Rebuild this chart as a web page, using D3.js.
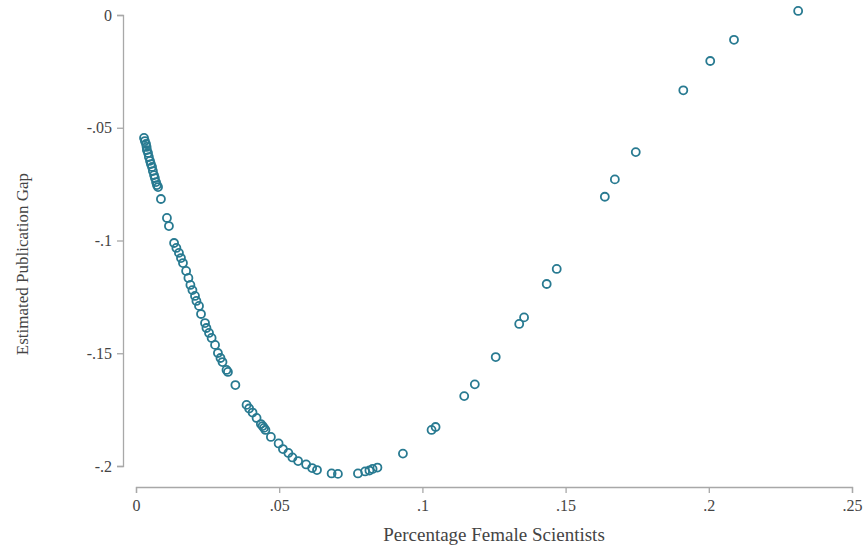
<!DOCTYPE html>
<meta charset="utf-8">
<style>
  body { margin: 0; background: #fff; }
  text { font-family: "Liberation Serif", "DejaVu Serif", serif; fill: #444; }
</style>
<script src="https://d3js.org/d3.v7.min.js"></script>
<div id="chart"></div>
<script>
// share of female scientists (x) and estimated gap (y)
var femaleShare = [
  0.0028, 0.0031, 0.0035, 0.0037, 0.0038, 0.0042, 0.0045, 0.0049, 0.0052, 0.0056,
  0.0059, 0.0063, 0.0066, 0.0070, 0.0073, 0.0077, 0.0087, 0.0108, 0.0115, 0.0133,
  0.0141, 0.0150, 0.0157, 0.0164, 0.0175, 0.0183, 0.0190, 0.0197, 0.0206, 0.0211,
  0.0220, 0.0227, 0.0241, 0.0246, 0.0255, 0.0264, 0.0276, 0.0286, 0.0295, 0.0302,
  0.0316, 0.0321, 0.0347, 0.0386, 0.0395, 0.0407, 0.0421, 0.0436, 0.0442, 0.0447,
  0.0452, 0.0471, 0.0498, 0.0513, 0.0532, 0.0546, 0.0566, 0.0594, 0.0615, 0.0632,
  0.0683, 0.0705, 0.0775, 0.0800, 0.0815, 0.0826, 0.0843, 0.0932, 0.1032, 0.1046,
  0.1146, 0.1183, 0.1256, 0.1338, 0.1355, 0.1434, 0.1469, 0.1637, 0.1672, 0.1745,
  0.1911, 0.2005, 0.2088, 0.2312
]
var pubGap = [
  -0.0545, -0.0559, -0.0572, -0.0585, -0.0599, -0.0612, -0.0630, -0.0647, -0.0661, -0.0674,
  -0.0692, -0.0710, -0.0723, -0.0741, -0.0754, -0.0763, -0.0816, -0.0900, -0.0936, -0.1011,
  -0.1033, -0.1055, -0.1078, -0.1100, -0.1135, -0.1166, -0.1197, -0.1220, -0.1246, -0.1268,
  -0.1290, -0.1326, -0.1366, -0.1388, -0.1410, -0.1432, -0.1463, -0.1499, -0.1521, -0.1539,
  -0.1574, -0.1583, -0.1641, -0.1729, -0.1745, -0.1763, -0.1787, -0.1814, -0.1823, -0.1831,
  -0.1840, -0.1871, -0.1900, -0.1925, -0.1942, -0.1962, -0.1978, -0.1993, -0.2009, -0.2018,
  -0.2033, -0.2035, -0.2033, -0.2024, -0.2020, -0.2013, -0.2007, -0.1945, -0.1840, -0.1827,
  -0.1690, -0.1638, -0.1517, -0.1370, -0.1341, -0.1193, -0.1126, -0.0806, -0.0729, -0.0608,
  -0.0334, -0.0204, -0.0110, 0.0018
]
var xTicks = [0, 0.05, 0.1, 0.15, 0.2, 0.25]
var yTicks = [0, -0.05, -0.1, -0.15, -0.2]

var width = 865
var height = 552

var svg = d3.select("#chart")
  .append("svg")
    .attr("width", width)
    .attr("height", height)

var x = d3.scaleLinear().domain([0, 0.25]).range([136, 852])
var y = d3.scaleLinear().domain([-0.2, 0]).range([466, 15])

// stata style labels: ".05", "-.1", "0"
var fmt = function(d) {
  return String(+d.toFixed(3)).replace(/^(-?)0\./, "$1.")
}

var serif = "'Liberation Serif', 'DejaVu Serif', serif"

var xAxis = svg.append("g")
  .attr("transform", "translate(0,487)")
  .call(d3.axisBottom(x).tickValues(xTicks).tickFormat(fmt).tickSizeOuter(0).tickSize(6).tickPadding(7))
var yAxis = svg.append("g")
  .attr("transform", "translate(123,0)")
  .call(d3.axisLeft(y).tickValues(yTicks).tickFormat(fmt).tickSizeOuter(0).tickSize(6).tickPadding(5))

svg.selectAll("g").attr("font-family", serif)
svg.selectAll(".domain, .tick line")
  .attr("stroke", "#a8a8a8")
  .attr("stroke-width", 1.3)
svg.selectAll(".tick text")
  .style("font-family", serif)
  .style("font-size", "16px")
  .attr("fill", "#555")

svg.append("text")
  .attr("x", 494)
  .attr("y", 541)
  .attr("text-anchor", "middle")
  .style("font-size", "19px")
  .text("Percentage Female Scientists")

svg.append("text")
  .attr("transform", "translate(28,264) rotate(-90)")
  .attr("text-anchor", "middle")
  .style("font-size", "17px")
  .text("Estimated Publication Gap")

svg.append("g")
  .selectAll("circle")
  .data(femaleShare)
  .enter().append("circle")
    .attr("cx", function(d) { return x(d) })
    .attr("cy", function(d, i) { return y(pubGap[i]) })
    .attr("r", 4)
    .style("fill", "none")
    .style("stroke", "#287a91")
    .style("stroke-width", 1.8)
</script>
